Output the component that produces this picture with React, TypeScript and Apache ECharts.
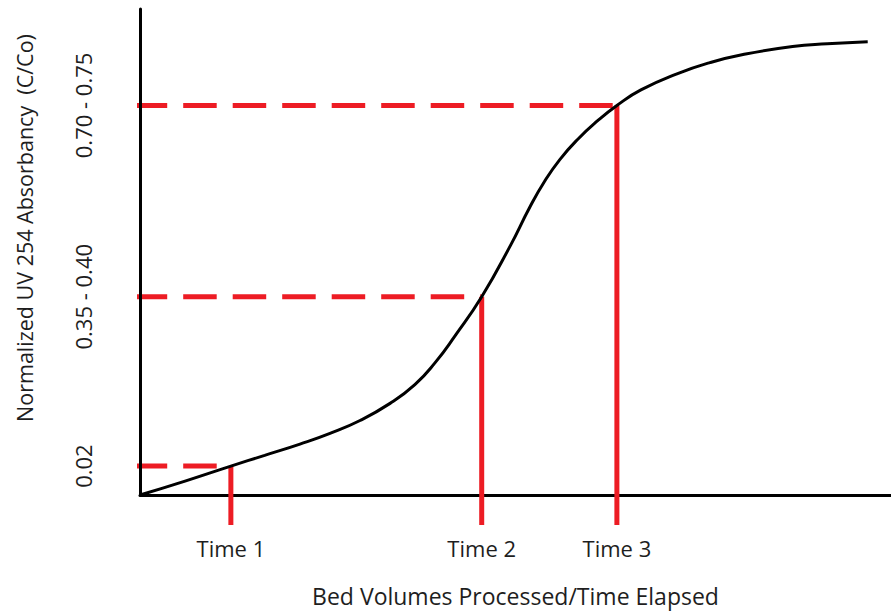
import { useEffect, useRef } from 'react';
import * as echarts from 'echarts';

// Breakthrough curve: bed volumes processed (relative) vs normalized UV254 (C/Co)
const bedVolumes = [0, 6.0, 12.1, 16.6, 21.3, 25.3, 29.3, 33.3, 36.6, 39.3, 41.9, 45.5, 49.3, 51.9, 53.9, 55.9, 58.3, 60.9, 63.5, 66.7, 71.5, 75.9, 80.3, 86.9, 91.5, 96.9];
const absorbancy = [0, 0.026, 0.054, 0.074, 0.095, 0.115, 0.139, 0.171, 0.206, 0.247, 0.296, 0.37, 0.465, 0.537, 0.586, 0.626, 0.664, 0.698, 0.727, 0.756, 0.786, 0.807, 0.822, 0.837, 0.842, 0.846];

// Breakpoints marked on the curve
const timeLabels = ['Time 1', 'Time 2', 'Time 3'];
const timePoints = [12.1, 45.5, 63.5];
const levelLabels = ['0.02', '0.35 - 0.40', '0.70 - 0.75'];
const levelValues = [0.054, 0.37, 0.727];

// Where the leader lines start (left of the y axis) and stop (below the x axis)
const leaderStartX = -4.5;
const leaderEndY = -0.056;

const FONT = 'Open Sans';
const TEXT = '#1e1e1e';
const RED = '#ED1C24';

export default function App() {
  const ref = useRef<HTMLDivElement>(null);

  useEffect(() => {
    document.body.style.margin = '0';
    const chart = echarts.init(ref.current!, null, { renderer: 'svg' });

    // long first dash that spans the axis, then an even dash rhythm
    const dash: number[] = [61, 16];
    for (let i = 0; i < 16; i++) dash.push(33.5, 16);

    const horizontal = levelValues.map((v, i) => ({
      type: 'line',
      data: [[leaderStartX, v], [timePoints[i], v]],
      symbol: 'none',
      clip: false,
      silent: true,
      z: 2,
      lineStyle: { color: RED, width: 5, type: dash, cap: 'butt' },
    }));
    const vertical = levelValues.map((v, i) => ({
      type: 'line',
      data: [[timePoints[i], v], [timePoints[i], leaderEndY]],
      symbol: 'none',
      clip: false,
      silent: true,
      z: 2,
      lineStyle: { color: RED, width: 5, type: 'solid', cap: 'butt' },
    }));

    chart.setOption({
      animation: false,
      grid: { left: 140, right: 0, top: 9, bottom: 115, containLabel: false },
      xAxis: {
        type: 'value',
        min: 0,
        max: 100,
        z: 0,
        name: 'Bed Volumes Processed/Time Elapsed',
        nameLocation: 'middle',
        nameGap: 89,
        nameTextStyle: { fontFamily: FONT, fontSize: 23, color: TEXT },
        axisLine: { lineStyle: { color: '#000', width: 3 } },
        axisTick: { show: false },
        splitLine: { show: false },
        axisLabel: {
          customValues: timePoints,
          formatter: (val: number) => {
            const i = timePoints.findIndex((t) => Math.abs(t - val) < 1e-6);
            return i >= 0 ? timeLabels[i] : '';
          },
          margin: 42,
          fontFamily: FONT,
          fontSize: 22,
          color: TEXT,
        },
      },
      yAxis: {
        type: 'value',
        min: 0,
        max: 0.907,
        z: 3,
        axisLine: { lineStyle: { color: '#000', width: 3 } },
        axisTick: { show: false },
        splitLine: { show: false },
        axisLabel: {
          customValues: levelValues,
          formatter: (val: number) => {
            const i = levelValues.findIndex((t) => Math.abs(t - val) < 1e-6);
            return i >= 0 ? levelLabels[i] : '';
          },
          rotate: 90,
          margin: 46,
          fontFamily: FONT,
          fontSize: 22,
          color: TEXT,
        },
      },
      graphic: [
        {
          type: 'text',
          x: 24,
          y: 228,
          rotation: Math.PI / 2,
          style: {
            text: 'Normalized UV 254 Absorbancy  (C/Co)',
            fontFamily: FONT,
            fontSize: 21.5,
            fill: TEXT,
            align: 'center',
            verticalAlign: 'middle',
          },
        },
      ],
      series: [
        ...horizontal,
        ...vertical,
        {
          type: 'line',
          data: bedVolumes.map((x, i) => [x, absorbancy[i]]),
          smooth: 0.5,
          symbol: 'none',
          silent: true,
          z: 4,
          lineStyle: { color: '#000', width: 3 },
        },
      ],
    });

    return () => chart.dispose();
  }, []);

  return <div ref={ref} style={{ width: 891, height: 612 }} />;
}
